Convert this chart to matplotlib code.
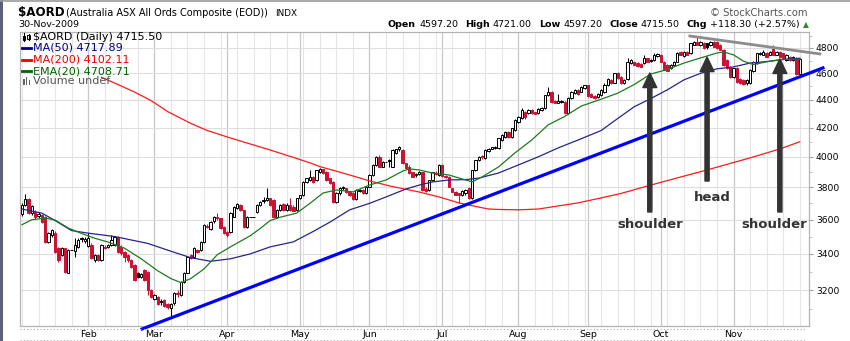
import numpy as np
import pandas as pd
import matplotlib
matplotlib.use('Agg')
import matplotlib.pyplot as plt
from matplotlib.patches import FancyArrowPatch, Rectangle
from matplotlib.lines import Line2D
from matplotlib.ticker import FixedLocator, NullFormatter, FuncFormatter

W, H, DPI = 850, 341, 100

# one bar per weekday, holidays kept as flat bars
dates = pd.bdate_range('2009-01-05', '2009-11-30')

opens = [
    3633, 3690, 3726, 3639, 3649, 3620, 3628, 3618, 3469, 3508,
    3518, 3431, 3393, 3431, 3295, 3422, 3415, 3441, 3492, 3475,
    3445, 3450, 3365, 3393, 3365, 3441, 3441, 3450, 3450, 3498,
    3441, 3412, 3393, 3365, 3337, 3291, 3273, 3309, 3300, 3200,
    3151, 3165, 3140, 3147, 3125, 3104, 3130, 3186, 3175, 3245,
    3295, 3393, 3384, 3420, 3422, 3469, 3565, 3545, 3590, 3615,
    3608, 3558, 3528, 3528, 3618, 3669, 3690, 3659, 3558, 3618,
    3618, 3645, 3690, 3715, 3721, 3731, 3721, 3618, 3659, 3694,
    3659, 3690, 3680, 3659, 3731, 3752, 3837, 3848, 3869, 3848,
    3902, 3917, 3902, 3858, 3837, 3711, 3763, 3794, 3794, 3773,
    3763, 3726, 3778, 3784, 3763, 3805, 3880, 3946, 4002, 3935,
    3968, 3980, 3935, 4024, 4050, 4046, 3957, 3935, 3897, 3880,
    3885, 3897, 3790, 3784, 3848, 3895, 3880, 3946, 3875, 3869,
    3794, 3773, 3762, 3750, 3765, 3794, 3731, 3913, 3979, 4005,
    3993, 4040, 4055, 4062, 4058, 4114, 4135, 4170, 4135, 4184,
    4241, 4269, 4315, 4305, 4326, 4310, 4305, 4326, 4340, 4437,
    4460, 4392, 4380, 4385, 4385, 4305, 4415, 4450, 4474, 4460,
    4485, 4510, 4445, 4430, 4420, 4437, 4455, 4510, 4549, 4530,
    4599, 4573, 4530, 4555, 4680, 4692, 4679, 4670, 4679, 4718,
    4704, 4704, 4735, 4744, 4692, 4666, 4641, 4666, 4692, 4771,
    4736, 4771, 4758, 4824, 4851, 4824, 4843, 4838, 4824, 4851,
    4851, 4824, 4784, 4704, 4653, 4573, 4641, 4559, 4549, 4523,
    4523, 4615, 4679, 4752, 4744, 4758, 4744, 4790, 4744, 4771,
    4758, 4704, 4731, 4704, 4718, 4597.20]

highs = [
    3700, 3759, 3735, 3690, 3660, 3645, 3635, 3625, 3525, 3545,
    3530, 3440, 3440, 3436, 3428, 3422, 3489, 3494, 3498, 3495,
    3518, 3460, 3400, 3400, 3455, 3450, 3458, 3508, 3505, 3505,
    3450, 3418, 3400, 3370, 3345, 3300, 3295, 3315, 3305, 3205,
    3180, 3170, 3150, 3150, 3130, 3133, 3190, 3200, 3250, 3300,
    3390, 3400, 3440, 3428, 3475, 3572, 3575, 3595, 3625, 3639,
    3612, 3562, 3535, 3645, 3685, 3700, 3698, 3662, 3622, 3618,
    3618, 3695, 3715, 3741, 3794, 3735, 3725, 3665, 3695, 3700,
    3700, 3731, 3690, 3735, 3755, 3840, 3862, 3913, 3875, 3915,
    3925, 3922, 3905, 3862, 3840, 3768, 3800, 3810, 3798, 3778,
    3768, 3790, 3792, 3788, 3810, 3885, 3950, 4005, 4010, 3972,
    3968, 3985, 4050, 4055, 4075, 4050, 3960, 3946, 3900, 3895,
    3905, 3900, 3800, 3850, 3900, 3905, 3950, 3950, 3880, 3872,
    3798, 3778, 3765, 3785, 3792, 3800, 3915, 3982, 4005, 4010,
    4050, 4060, 4068, 4072, 4130, 4155, 4175, 4175, 4200, 4258,
    4280, 4340, 4320, 4330, 4330, 4315, 4340, 4345, 4440, 4496,
    4465, 4398, 4445, 4400, 4390, 4420, 4465, 4480, 4480, 4500,
    4515, 4515, 4450, 4435, 4450, 4480, 4525, 4565, 4560, 4605,
    4610, 4578, 4560, 4718, 4710, 4700, 4685, 4680, 4744, 4722,
    4712, 4758, 4760, 4750, 4698, 4670, 4670, 4695, 4765, 4778,
    4775, 4778, 4842, 4855, 4886, 4855, 4850, 4842, 4858, 4856,
    4855, 4830, 4790, 4710, 4660, 4645, 4648, 4565, 4555, 4555,
    4635, 4698, 4762, 4768, 4780, 4765, 4778, 4824, 4775, 4776,
    4762, 4750, 4738, 4736, 4725, 4721.00]

lows = [
    3625, 3685, 3635, 3630, 3605, 3612, 3580, 3460, 3460, 3500,
    3405, 3356, 3385, 3295, 3290, 3422, 3380, 3435, 3470, 3465,
    3440, 3370, 3356, 3360, 3360, 3425, 3435, 3445, 3445, 3405,
    3395, 3356, 3355, 3319, 3250, 3265, 3265, 3250, 3173, 3156,
    3145, 3120, 3120, 3110, 3100, 3055, 3120, 3165, 3170, 3240,
    3290, 3370, 3380, 3405, 3418, 3465, 3550, 3540, 3580, 3600,
    3545, 3515, 3500, 3520, 3615, 3665, 3655, 3550, 3550, 3618,
    3618, 3640, 3685, 3705, 3715, 3685, 3612, 3612, 3655, 3655,
    3655, 3655, 3650, 3655, 3725, 3745, 3830, 3840, 3830, 3840,
    3895, 3885, 3840, 3820, 3705, 3700, 3755, 3785, 3765, 3745,
    3720, 3720, 3770, 3758, 3758, 3800, 3875, 3940, 3930, 3930,
    3968, 3935, 3930, 4020, 4040, 3955, 3920, 3885, 3865, 3870,
    3878, 3780, 3768, 3780, 3840, 3880, 3875, 3870, 3862, 3800,
    3770, 3750, 3705, 3745, 3755, 3725, 3725, 3905, 3970, 3985,
    3988, 4035, 4050, 4055, 4055, 4110, 4130, 4130, 4130, 4180,
    4235, 4265, 4265, 4300, 4300, 4295, 4300, 4320, 4335, 4430,
    4380, 4375, 4375, 4375, 4300, 4300, 4410, 4445, 4440, 4455,
    4480, 4425, 4420, 4410, 4415, 4432, 4450, 4505, 4520, 4525,
    4560, 4520, 4520, 4550, 4675, 4662, 4652, 4648, 4675, 4688,
    4690, 4700, 4730, 4688, 4625, 4618, 4635, 4660, 4688, 4740,
    4730, 4740, 4750, 4820, 4820, 4818, 4795, 4790, 4818, 4805,
    4795, 4780, 4660, 4635, 4565, 4565, 4530, 4518, 4515, 4515,
    4518, 4610, 4675, 4745, 4740, 4728, 4740, 4740, 4740, 4725,
    4715, 4700, 4700, 4698, 4590, 4597.20]

closes = [
    3690, 3726, 3639, 3684, 3614, 3632, 3588, 3469, 3518, 3538,
    3412, 3365, 3431, 3300, 3422, 3422, 3450, 3479, 3484, 3488,
    3489, 3375, 3393, 3365, 3450, 3431, 3450, 3479, 3498, 3412,
    3403, 3384, 3365, 3328, 3254, 3273, 3286, 3254, 3200, 3165,
    3173, 3126, 3135, 3116, 3108, 3126, 3186, 3178, 3245, 3295,
    3384, 3375, 3431, 3412, 3469, 3568, 3558, 3588, 3618, 3608,
    3548, 3518, 3508, 3639, 3680, 3694, 3659, 3558, 3618, 3618,
    3618, 3690, 3711, 3721, 3731, 3690, 3618, 3659, 3690, 3659,
    3690, 3659, 3655, 3731, 3752, 3837, 3858, 3869, 3837, 3913,
    3917, 3891, 3848, 3826, 3711, 3763, 3794, 3805, 3773, 3752,
    3726, 3784, 3786, 3763, 3805, 3880, 3946, 4002, 3935, 3968,
    3968, 3972, 4046, 4050, 4064, 3957, 3924, 3891, 3869, 3888,
    3900, 3784, 3775, 3848, 3897, 3885, 3946, 3875, 3868, 3805,
    3773, 3755, 3750, 3778, 3785, 3731, 3913, 3979, 4002, 3998,
    4046, 4055, 4064, 4068, 4128, 4150, 4170, 4135, 4198, 4255,
    4276, 4326, 4275, 4326, 4305, 4300, 4330, 4340, 4437, 4460,
    4385, 4380, 4392, 4395, 4305, 4415, 4460, 4474, 4445, 4496,
    4510, 4430, 4425, 4415, 4445, 4474, 4515, 4559, 4523, 4599,
    4565, 4523, 4550, 4692, 4704, 4666, 4658, 4653, 4718, 4692,
    4700, 4744, 4752, 4692, 4628, 4622, 4666, 4692, 4758, 4744,
    4771, 4744, 4838, 4851, 4824, 4851, 4798, 4810, 4851, 4810,
    4798, 4784, 4666, 4641, 4573, 4641, 4536, 4523, 4520, 4549,
    4628, 4692, 4758, 4762, 4771, 4731, 4771, 4744, 4771, 4731,
    4718, 4744, 4704, 4731, 4597.20, 4715.50]

# overlay lines, sampled by bar number
ma50_idx = [0, 6, 10, 15, 20, 28, 38, 45, 51, 57, 63, 69, 75, 82, 88, 93, 99,
            105, 110, 116, 120, 124, 129, 134, 138, 144, 150, 156, 162, 168,
            175, 180, 185, 190, 195, 200, 205, 210, 215, 220, 225, 230, 235]
ma50_val = [3665, 3640, 3595, 3535, 3520, 3500, 3460, 3415, 3378, 3358, 3372,
            3400, 3440, 3469, 3530, 3585, 3660, 3700, 3740, 3790, 3815, 3835,
            3848, 3850, 3860, 3893, 3946, 4000, 4060, 4114, 4180, 4265, 4350,
            4410, 4475, 4550, 4600, 4635, 4650, 4680, 4692, 4708, 4717.89]

ema20_idx = [0, 3, 7, 10, 14, 18, 22, 26, 31, 36, 41, 45, 48, 51, 55, 59, 63,
             69, 72, 75, 78, 83, 87, 91, 95, 100, 105, 110, 115, 117, 120, 124,
             129, 134, 136, 139, 144, 149, 154, 159, 164, 169, 175, 180, 185,
             190, 195, 200, 205, 210, 212, 215, 218, 221, 225, 230, 235]
ema20_val = [3570, 3600, 3610, 3598, 3550, 3518, 3490, 3468, 3432, 3372, 3305,
             3262, 3240, 3262, 3315, 3395, 3440, 3505, 3548, 3595, 3615, 3640,
             3700, 3765, 3784, 3772, 3815, 3848, 3905, 3920, 3913, 3893, 3880,
             3848, 3836, 3867, 3933, 4027, 4114, 4220, 4280, 4355, 4405, 4450,
             4515, 4595, 4630, 4680, 4720, 4760, 4768, 4745, 4695, 4668, 4690,
             4710, 4708.71]

ma200_idx = [24, 29, 34, 39, 44, 51, 56, 63, 70, 75, 81, 87, 90, 95, 99, 105,
             111, 117, 120, 126, 132, 138, 141, 145, 150, 156, 162, 168, 175,
             181, 190, 199, 207, 213, 220, 229, 235]
ma200_val = [4570, 4515, 4458, 4395, 4315, 4230, 4180, 4128, 4080, 4046, 4003,
             3960, 3935, 3905, 3880, 3842, 3810, 3784, 3771, 3740, 3703, 3677,
             3665, 3662, 3660, 3665, 3684, 3703, 3734, 3762, 3815, 3867, 3913,
             3950, 3993, 4053, 4102.11]

# hand-drawn studies: rising support, falling top line, H&S arrows
trend_idx = [36.3, 242.0]
trend_val = [2998, 4642]
neck_idx = [201.8, 241.1]
neck_val = [4897, 4752]
arrow_idx = [189.7, 207.0, 229.0]
arrow_tip = [4603, 4728, 4713]
arrow_tail = [3647, 3841, 3647]
pattern_labels = ['shoulder', 'head', 'shoulder']
pattern_idx = [189.7, 208.5, 227.2]
pattern_val = [3574, 3739, 3574]

price_ticks = [3200, 3400, 3600, 3800, 4000, 4200, 4400, 4600, 4800]
price_minor = [3100, 3300, 3500, 3700, 3900, 4100, 4300, 4500, 4700, 4900]

INK = '#333333'
RED = '#cc1133'


def fx(px):
    return px / W


def fy(py):
    return 1 - py / H


fig = plt.figure(figsize=(W / DPI, H / DPI), dpi=DPI, facecolor='white')
ax = fig.add_axes([fx(20), fy(326), (809 - 20) / W, (326 - 32) / H])
ax.set_yscale('log')
ax.set_xlim(-0.6, 237.8)
ax.set_ylim(3013, 4930)

idx = np.arange(len(closes))
o = np.array(opens, float)
h = np.array(highs, float)
l = np.array(lows, float)
c = np.array(closes, float)

# grid: weekly light, month starts darker
mondays = np.flatnonzero(dates.dayofweek == 0)
month_first = np.flatnonzero(np.r_[True, dates.month[1:] != dates.month[:-1]])[1:]
for i in mondays:
    ax.axvline(i, color='#e6e6e6', lw=0.8, zorder=0)
for i in month_first:
    ax.axvline(i, color='#c8c8c8', lw=0.9, zorder=0)
for p in price_ticks:
    ax.axhline(p, color='#dedede', lw=0.8, zorder=0)

# candles: colour vs previous close, hollow when close > open
prev = np.r_[o[0], c[:-1]]
colour = np.where(c >= prev, 'black', RED)
hollow = c > o
ax.vlines(idx, l, h, colors=colour, lw=0.75, zorder=3)
lo = np.minimum(o, c)
hi = np.maximum(o, c)
ax.bar(idx, hi - lo, bottom=lo, width=0.7,
       color=np.where(hollow, 'white', colour), edgecolor=colour,
       linewidth=0.7, zorder=4)

ax.plot(ma200_idx, ma200_val, color='#ff1a1a', lw=0.9, zorder=5)
ax.plot(ma50_idx, ma50_val, color='#25258f', lw=0.9, zorder=5)
ax.plot(ema20_idx, ema20_val, color='#1f7a1f', lw=0.9, zorder=5)

ax.plot(trend_idx, trend_val, color='#0000ff', lw=2.3, clip_on=False, zorder=6)
ax.plot(neck_idx, neck_val, color='#8c8c8c', lw=2.0, clip_on=False, zorder=6)

for x, tail, tip in zip(arrow_idx, arrow_tail, arrow_tip):
    ax.add_patch(FancyArrowPatch(
        (x, tail), (x, tip),
        arrowstyle='simple,head_length=1.05,head_width=1.0,tail_width=0.3',
        mutation_scale=10, color=INK, shrinkA=0, shrinkB=0, zorder=7))
for x, y, s in zip(pattern_idx, pattern_val, pattern_labels):
    ax.text(x, y, s, ha='center', va='center', fontsize=9.5,
            fontweight='bold', color=INK, zorder=8)

# axes
ax.yaxis.tick_right()
ax.yaxis.set_major_locator(FixedLocator(price_ticks))
ax.yaxis.set_minor_locator(FixedLocator(price_minor))
ax.yaxis.set_major_formatter(FuncFormatter(lambda v, _: f'{v:.0f}'))
ax.yaxis.set_minor_formatter(NullFormatter())
ax.tick_params(axis='y', which='major', length=3, color='#a0a0a0',
               labelsize=6.6, pad=2)
ax.tick_params(axis='y', which='minor', length=2, color='#b8b8b8')
ax.set_xticks(month_first)
ax.set_xticklabels(dates[month_first].strftime('%b'))
ax.tick_params(axis='x', length=0, labelsize=6.8, pad=3)
for s in ax.spines.values():
    s.set_color('#b4b4b4')
    s.set_linewidth(0.9)

# header
fig.text(fx(18), fy(16), '$AORD', fontsize=8.6, fontweight='bold', va='baseline')
fig.text(fx(66), fy(15.5), '(Australia ASX All Ords Composite (EOD))',
         fontsize=7, va='baseline')
fig.text(fx(275), fy(15.5), 'INDX', fontsize=6.4, va='baseline')
fig.text(fx(18), fy(27), dates[-1].strftime('%d-%b-%Y'), fontsize=6.8,
         va='baseline')
fig.text(fx(808), fy(16), '\u00a9 StockCharts.com', fontsize=7.2,
         color='#555555', ha='right', va='baseline')

# quote line, laid out piece by piece from the left
chg = closes[-1] - closes[-2]
pct = chg / closes[-2] * 100
quote = [('Open', True), (f'{opens[-1]:.2f}', False),
         ('High', True), (f'{highs[-1]:.2f}', False),
         ('Low', True), (f'{lows[-1]:.2f}', False),
         ('Close', True), (f'{closes[-1]:.2f}', False),
         ('Chg', True), (f'{chg:+.2f} ({pct:+.2f}%)', False)]
renderer = fig.canvas.get_renderer()
cursor = 388
for s, bold in quote:
    t = fig.text(fx(cursor), fy(27), s, fontsize=6.8, va='baseline',
                 fontweight='bold' if bold else 'normal')
    cursor = t.get_window_extent(renderer).x1 + (3 if bold else 7)
fig.text(fx(cursor - 4), fy(27), '\u25b2', fontsize=5.5, color='#2e8b2e',
         va='baseline')

# legend block in the plot corner
legend = [('$AORD (Daily) ' + f'{closes[-1]:.2f}', 'black', 37),
          ('MA(50) ' + f'{ma50_val[-1]:.2f}', '#000080', 48),
          ('MA(200) ' + f'{ma200_val[-1]:.2f}', '#ee0000', 59.5),
          ('EMA(20) ' + f'{ema20_val[-1]:.2f}', '#006400', 71),
          ('Volume undef', '#555555', 81.5)]
for k, (s, col, py) in enumerate(legend):
    fig.text(fx(33), fy(py), s, fontsize=8, color=col, va='center')
    if 1 <= k <= 3:
        fig.add_artist(Line2D([fx(22), fx(31)], [fy(py), fy(py)], color=col, lw=2))

# tiny candle and volume icons
for px, top, bot in [(24, 33, 41), (28.5, 34, 40)]:
    fig.add_artist(Line2D([fx(px), fx(px)], [fy(top), fy(bot)], color='black', lw=0.8))
    fig.add_artist(Rectangle((fx(px - 1.2), fy(bot - 1.5)), 2.4 / W, 4 / H,
                             transform=fig.transFigure, fc='white', ec='black', lw=0.7))
for px, top in [(23.5, 79), (26.5, 77), (29.5, 80)]:
    fig.add_artist(Rectangle((fx(px - 1), fy(85)), 2 / W, (85 - top) / H,
                             transform=fig.transFigure, fc='#666666', ec='none'))

# frame bits
fig.add_artist(Rectangle((0, 0), 2.5 / W, 1, transform=fig.transFigure,
                         fc='#5b6078', ec='none'))
fig.add_artist(Line2D([0, 1], [fy(0.6), fy(0.6)], color='#9a9a9a', lw=1.2))
for py in (328.5, 340):
    fig.add_artist(Line2D([fx(20), fx(806)], [fy(py), fy(py)], color='#aaaaaa',
                          lw=0.8, linestyle=(0, (1, 2))))

fig.savefig('out.png', dpi=DPI, facecolor='white')
